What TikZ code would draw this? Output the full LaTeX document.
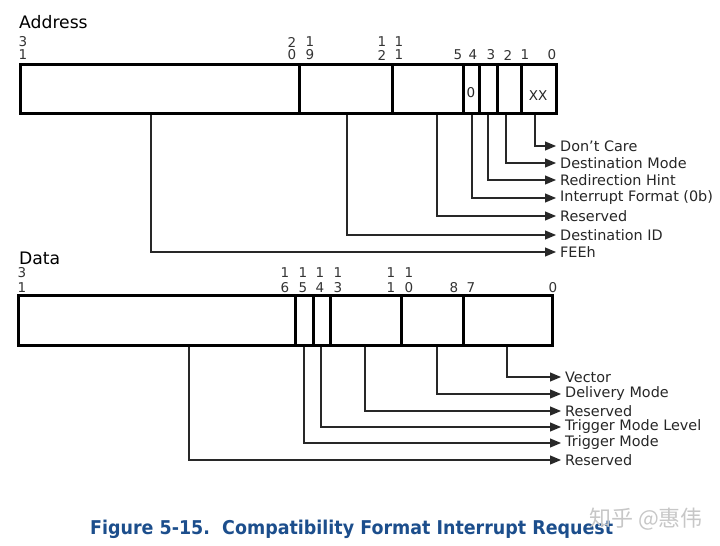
\documentclass[tikz,border=0pt]{standalone}
\usepackage{fontspec}
\usepackage{graphicx}
\setmainfont{DejaVu Sans}
\newfontfamily\cjkfont{Noto Sans CJK SC}
\usetikzlibrary{arrows.meta}
\definecolor{capblue}{RGB}{28,78,140}
\definecolor{leadgray}{RGB}{40,40,40}
\tikzset{
  regbox/.style={line width=3pt},
  divider/.style={line width=3pt},
  leader/.style={line width=1.1pt, draw=leadgray, -{Triangle[length=11pt,width=9pt]}},
  fieldlabel/.style={anchor=west, inner xsep=4pt, inner ysep=0pt, font=\fontsize{14.4}{15}\selectfont, text=black!85},
  bitnum/.style={inner sep=0pt, font=\fontsize{13.5}{14}\selectfont, text=black!80},
  title/.style={anchor=base west, inner sep=0pt, font=\fontsize{17.2}{18}\selectfont},
  fieldtext/.style={inner sep=0pt, font=\fontsize{13.5}{14}\selectfont, text=black!85}
}
\begin{document}
\begin{tikzpicture}[x=1pt,y=-1pt]
\useasboundingbox (0,0) rectangle (720,546);
% ---------------- Address ----------------
\node[title] (addrtitle) at (19,28) {Address};
\foreach \nm/\xx/\t/\b in {a31/23/3/1, a20/292/2/0, a19/310/1/9, a12/382/1/2, a11/399/1/1}{
  \node[bitnum] (\nm t) at (\xx,42) {\t};
  \node[bitnum] (\nm b) at (\xx,55) {\b};
}
\foreach \nm/\xx/\b in {a5/458/5, a4/473/4, a3/491/3, a2/508/2, a1/525/1, a0/552/0}{
  \node[bitnum] (\nm b) at (\xx,55) {\b};
}
\draw[regbox] (20,64) rectangle (556,113);
\foreach \xx in {299,392,463,479,497,521}{
  \draw[divider] (\xx,64) -- (\xx,113);
}
\node[fieldtext] (fmt0) at (471,93) {0};
\node[fieldtext] (xx) at (538,96) {XX};
% leader start points
\coordinate (aDC) at (535,114.5);
\coordinate (aDM) at (506,114.5);
\coordinate (aRH) at (488,114.5);
\coordinate (aIF) at (472,114.5);
\coordinate (aRS) at (437,114.5);
\coordinate (aID) at (347,114.5);
\coordinate (aFE) at (151,114.5);
% labels
\node[fieldlabel] (lDC) at (556,146) {Don’t Care};
\node[fieldlabel] (lDM) at (556,163) {Destination Mode};
\node[fieldlabel] (lRH) at (556,180) {Redirection Hint};
\node[fieldlabel] (lIF) at (556,198) {Interrupt Format (0b)};
\node[fieldlabel] (lRS) at (556,216) {Reserved};
\node[fieldlabel] (lID) at (556,235) {Destination ID};
\node[fieldlabel] (lFE) at (556,252) {FEEh};
\foreach \s/\e in {aDC/lDC, aDM/lDM, aRH/lRH, aIF/lIF, aRS/lRS, aID/lID, aFE/lFE}{
  \draw[leader] (\s) |- (\e.west);
}
% ---------------- Data ----------------
\node[title] (datatitle) at (19,264) {Data};
\foreach \nm/\xx/\t/\b in {d31/22/3/1, d16/285/1/6, d15/303/1/5, d14/320/1/4, d13/338/1/3, d11/391/1/1, d10/409/1/0}{
  \node[bitnum] (\nm t) at (\xx,273) {\t};
  \node[bitnum] (\nm b) at (\xx,288) {\b};
}
\foreach \nm/\xx/\b in {d8/454/8, d7/471/7, d0/553/0}{
  \node[bitnum] (\nm b) at (\xx,288) {\b};
}
\draw[regbox] (18,295) rectangle (552,345);
\foreach \xx in {295,313,330,401,463}{
  \draw[divider] (\xx,295) -- (\xx,345);
}
\coordinate (dVE) at (507,346.5);
\coordinate (dDM) at (437,346.5);
\coordinate (dR1) at (365,346.5);
\coordinate (dTL) at (321,346.5);
\coordinate (dTM) at (304,346.5);
\coordinate (dR2) at (189,346.5);
\node[fieldlabel] (mVE) at (561,377) {Vector};
\node[fieldlabel] (mDM) at (561,394) {Delivery Mode};
\node[fieldlabel] (mR1) at (561,411) {Reserved};
\node[fieldlabel] (mTL) at (561,427) {Trigger Mode Level};
\node[fieldlabel] (mTM) at (561,443) {Trigger Mode};
\node[fieldlabel] (mR2) at (561,460) {Reserved};
\foreach \s/\e in {dVE/mVE, dDM/mDM, dR1/mR1, dTL/mTL, dTM/mTM, dR2/mR2}{
  \draw[leader] (\s) |- (\e.west);
}
% ---------------- Caption ----------------
\node[inner sep=0pt, anchor=base west, text=capblue, font=\bfseries\fontsize{19}{20}\selectfont] (caption) at (90,534) {\resizebox{523pt}{\height}{Figure 5-15.\ \ Compatibility Format Interrupt Request}};
\node[inner sep=0pt, anchor=base west, text=black!22, font=\cjkfont\fontsize{22}{22}\selectfont] (wm) at (589,526) {知乎 @惠伟};
\end{tikzpicture}
\end{document}
